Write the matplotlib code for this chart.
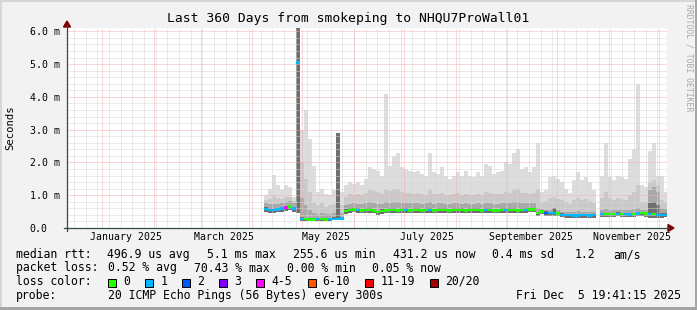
import numpy as np
import pandas as pd
import matplotlib
matplotlib.use("Agg")
import matplotlib.pyplot as plt
import matplotlib.dates as mdates
from matplotlib.lines import Line2D
from matplotlib.patches import Polygon, Rectangle

# ---------------- data ----------------
title = "Last 360 Days from smokeping to NHQU7ProWall01"
end_time = "2025-12-05 19:41:15"
span_days = 360
first_sample = "2025-04-08 00:30"
sample_minutes = 3456          # one consolidated column = 2.4 days

nan = float("nan")

# median rtt (ms)
median = [0.58, 0.55, 0.55, 0.56, 0.60, 0.62, 0.66, 0.60, 5.05, 0.28,
          0.27, 0.26, 0.26, 0.27, 0.27, 0.26, 0.27, 0.28, 0.28, 0.29,
          0.52, 0.55, 0.56, 0.55, 0.54, 0.55, 0.55, 0.53, 0.48, 0.52,
          0.54, 0.55, 0.55, 0.54, 0.55, 0.55, 0.54, 0.55, 0.55, 0.54,
          0.55, 0.55, 0.54, 0.55, 0.55, 0.55, 0.54, 0.55, 0.55, 0.55,
          0.54, 0.55, 0.55, 0.55, 0.54, 0.55, 0.55, 0.54, 0.54, 0.55,
          0.55, 0.55, 0.55, 0.54, 0.55, 0.55, 0.56, 0.57, 0.45, 0.50,
          0.46, 0.45, 0.45, 0.44, 0.40, 0.39, 0.39, 0.38, 0.38, 0.39,
          0.39, 0.38, 0.39, nan, 0.42, 0.42, 0.42, 0.42, 0.43, 0.42,
          0.42, 0.41, 0.42, 0.44, 0.45, 0.44, 0.43, 0.43, 0.40, 0.40,
          0.40]

# lowest ping (bottom of smoke, ms)
low = [0.48, 0.47, 0.47, 0.48, 0.50, 0.52, 0.55, 0.50, 0.45, 0.22,
       0.21, 0.21, 0.21, 0.22, 0.22, 0.21, 0.22, 0.23, 0.23, 0.23,
       0.44, 0.47, 0.48, 0.47, 0.46, 0.47, 0.47, 0.45, 0.41, 0.44,
       0.46, 0.47, 0.47, 0.46, 0.47, 0.47, 0.46, 0.47, 0.47, 0.46,
       0.47, 0.47, 0.46, 0.47, 0.47, 0.47, 0.46, 0.47, 0.47, 0.47,
       0.46, 0.47, 0.47, 0.47, 0.46, 0.47, 0.47, 0.46, 0.46, 0.47,
       0.47, 0.47, 0.47, 0.46, 0.47, 0.47, 0.48, 0.49, 0.36, 0.42,
       0.38, 0.37, 0.37, 0.36, 0.33, 0.32, 0.32, 0.31, 0.31, 0.32,
       0.32, 0.31, 0.32, nan, 0.35, 0.35, 0.35, 0.35, 0.36, 0.35,
       0.35, 0.34, 0.35, 0.37, 0.36, 0.35, 0.30, 0.30, 0.31, 0.32,
       0.33]

# top of darkest smoke band (ms)
core = [0.63, 0.60, 0.60, 0.61, 0.65, 0.67, 0.71, 0.65, 6.20, 0.33,
        0.32, 0.31, 0.31, 0.32, 0.32, 0.31, 0.32, 0.33, 2.90, 0.34,
        0.57, 0.60, 0.61, 0.60, 0.59, 0.60, 0.60, 0.58, 0.53, 0.57,
        0.59, 0.60, 0.60, 0.59, 0.60, 0.60, 0.59, 0.60, 0.60, 0.59,
        0.60, 0.60, 0.59, 0.60, 0.60, 0.60, 0.59, 0.60, 0.60, 0.60,
        0.59, 0.60, 0.60, 0.60, 0.59, 0.60, 0.60, 0.59, 0.59, 0.60,
        0.60, 0.60, 0.60, 0.59, 0.60, 0.60, 0.61, 0.62, 0.50, 0.55,
        0.51, 0.50, 0.62, 0.49, 0.45, 0.44, 0.44, 0.43, 0.43, 0.44,
        0.44, 0.43, 0.44, nan, 0.47, 0.47, 0.47, 0.47, 0.48, 0.47,
        0.47, 0.46, 0.47, 0.49, 0.50, 0.49, 0.75, 0.80, 0.70, 0.45,
        0.45]

# top of inner smoke band (ms)
inner = [0.75, 0.72, 0.74, 0.72, 0.76, 0.80, 0.82, 0.75, 6.20, 0.90,
         0.70, 0.55, 0.45, 0.42, 0.45, 0.42, 0.42, 0.45, 2.90, 0.45,
         0.70, 0.74, 0.75, 0.74, 0.73, 0.75, 0.78, 0.76, 0.72, 0.74,
         0.78, 0.77, 0.78, 0.80, 0.76, 0.75, 0.75, 0.76, 0.75, 0.74,
         0.75, 0.78, 0.74, 0.75, 0.76, 0.74, 0.73, 0.75, 0.76, 0.74,
         0.75, 0.74, 0.74, 0.75, 0.73, 0.77, 0.76, 0.74, 0.74, 0.75,
         0.77, 0.76, 0.78, 0.79, 0.75, 0.76, 0.76, 0.77, 0.62, 0.58,
         0.56, 0.55, 0.62, 0.54, 0.50, 0.49, 0.48, 0.50, 0.51, 0.50,
         0.50, 0.49, 0.49, nan, 0.55, 0.58, 0.55, 0.54, 0.55, 0.54,
         0.54, 0.56, 0.58, 0.60, 0.56, 0.55, 1.15, 1.25, 1.10, 0.60,
         0.58]

# top of middle smoke band (ms)
upper = [0.85, 0.88, 0.98, 0.92, 0.88, 0.95, 0.95, 0.82, 6.20, 2.00,
         1.50, 1.10, 0.80, 0.70, 0.75, 0.65, 0.70, 0.72, 2.90, 0.70,
         0.95, 1.05, 1.02, 1.05, 1.00, 1.08, 1.15, 1.12, 1.10, 1.05,
         1.20, 1.12, 1.15, 1.18, 1.10, 1.08, 1.06, 1.05, 1.08, 1.04,
         1.02, 1.15, 1.05, 1.04, 1.08, 1.02, 1.00, 1.03, 1.06, 1.02,
         1.05, 1.02, 1.00, 1.04, 1.02, 1.10, 1.08, 1.03, 1.04, 1.05,
         1.10, 1.08, 1.15, 1.18, 1.06, 1.08, 1.05, 1.08, 1.20, 0.80,
         0.82, 0.90, 0.95, 0.88, 0.85, 0.78, 0.72, 0.85, 0.90, 0.85,
         0.88, 0.82, 0.75, nan, 0.90, 1.10, 0.90, 0.85, 0.90, 0.88,
         0.85, 1.00, 1.10, 1.30, 0.80, 0.80, 1.40, 1.45, 1.30, 0.85,
         0.80]

# highest ping (top of smoke, ms)
top = [1.00, 1.20, 1.62, 1.30, 1.15, 1.30, 1.25, 0.95, 6.20, 3.00,
       3.60, 2.70, 1.90, 1.10, 1.20, 1.05, 1.00, 1.15, 2.90, 1.10,
       1.30, 1.40, 1.35, 1.40, 1.30, 1.50, 1.85, 1.80, 1.75, 1.60,
       4.10, 1.90, 2.20, 2.30, 1.85, 1.80, 1.75, 1.70, 1.75, 1.65,
       1.60, 2.30, 1.70, 1.65, 1.85, 1.60, 1.50, 1.60, 1.70, 1.60,
       1.75, 1.60, 1.55, 1.70, 1.60, 1.95, 1.90, 1.65, 1.70, 1.75,
       2.00, 1.95, 2.30, 2.40, 1.80, 1.85, 1.70, 1.85, 2.60, 1.10,
       1.15, 1.55, 1.60, 1.50, 1.40, 1.20, 1.07, 1.45, 1.70, 1.45,
       1.55, 1.40, 1.15, nan, 1.60, 2.60, 1.55, 1.45, 1.60, 1.55,
       1.50, 2.10, 2.40, 4.40, 1.30, 1.25, 2.35, 2.60, 1.60, 1.60,
       1.10]

# packet loss class of each column (index into loss_labels)
loss = [1, 1, 1, 1, 1, 4, 0, 1, 1, 1,
        0, 0, 0, 1, 0, 0, 1, 1, 1, 1,
        0, 0, 0, 1, 0, 0, 0, 0, 0, 0,
        0, 0, 0, 0, 0, 1, 0, 0, 0, 0,
        0, 1, 0, 0, 0, 0, 0, 0, 0, 0,
        0, 0, 0, 0, 0, 1, 0, 0, 0, 0,
        1, 0, 0, 0, 0, 1, 0, 0, 0, 0,
        2, 1, 1, 0, 1, 1, 1, 1, 1, 1,
        1, 1, 1, 1, 1, 0, 0, 0, 1, 0,
        1, 1, 0, 1, 0, 0, 1, 0, 1, 1,
        1]

loss_labels = ["0", "1", "2", "3", "4-5", "6-10", "11-19", "20/20"]
loss_colors = ["#26ff00", "#00b8ff", "#0059ff", "#7e00ff",
               "#ff00ff", "#ff5500", "#ff0000", "#a10000"]

y_ticks = [0, 1, 2, 3, 4, 5, 6]
y_ticklabels = ["0.0", "1.0 m", "2.0 m", "3.0 m", "4.0 m", "5.0 m", "6.0 m"]
x_label_dates = ["2025-01-15", "2025-03-15", "2025-05-15",
                 "2025-07-15", "2025-09-15", "2025-11-15"]
x_labels = ["January 2025", "March 2025", "May 2025",
            "July 2025", "September 2025", "November 2025"]

rtt_items = ["496.9 us avg", "5.1 ms max", "255.6 us min",
             "431.2 us now", "0.4 ms sd", "1.2", "am/s"]
loss_items = ["0.52 % avg", "70.43 % max", "0.00 % min", "0.05 % now"]
probe_text = "20 ICMP Echo Pings (56 Bytes) every 300s"
stamp_text = "Fri Dec  5 19:41:15 2025"

# ---------------- style ----------------
W, H, DPI = 697, 310, 100
MONO = "DejaVu Sans Mono"
BG = "#f2f2f2"
AXIS = "#2c4d43"
ARROW = "#7f0000"
plt.rcParams["font.family"] = MONO


def fx(px):
    return px / W


def fy(py):
    return 1 - py / H


fig = plt.figure(figsize=(W / DPI, H / DPI), dpi=DPI, facecolor=BG)
ax = fig.add_axes([fx(67), fy(228), 600 / W, 200 / H])
ax.set_facecolor("white")
for s in ax.spines.values():
    s.set_visible(False)

t_end = pd.Timestamp(end_time)
t_start = t_end - pd.Timedelta(days=span_days)
x0, x1 = mdates.date2num(t_start.to_pydatetime()), mdates.date2num(t_end.to_pydatetime())
ax.set_xlim(x0, x1)
ax.set_ylim(0, 6.1)

dates = pd.date_range(first_sample, periods=len(median), freq=f"{sample_minutes}min")
xs = mdates.date2num(dates.to_pydatetime())
wd = sample_minutes / 1440.0
low_a = np.array(low, dtype=float)

# smoke layers
for arr, col in [(top, "#dddddd"), (upper, "#c9c9c9"),
                 (inner, "#a9a9a9"), (core, "#6e6e6e")]:
    a = np.array(arr, dtype=float)
    ax.bar(xs, a - low_a, bottom=low_a, width=wd, align="edge",
           color=col, linewidth=0, antialiased=False, zorder=2)

# grid (dotted, 1px on / 1px off)
DOT = (0, (1, 1))
MINOR_C = "#d6d6d6"
MAJOR_C = "#f4b0b0"
hmin = [v / 5 for v in range(0, 31) if v % 5 != 0]
ax.hlines(hmin, x0, x1, colors=MINOR_C, linewidth=0.72,
          linestyles=DOT, zorder=3)
weeks = mdates.date2num(pd.date_range(t_start.normalize(), t_end, freq="W-SUN").to_pydatetime())
ax.vlines(weeks, 0, 6.1, colors=MINOR_C, linewidth=0.72,
          linestyles=DOT, zorder=3)
ax.hlines(y_ticks, x0, x1, colors=MAJOR_C, linewidth=0.72,
          linestyles=DOT, zorder=3)
months = mdates.date2num(pd.date_range("2025-01-01", t_end, freq="MS").to_pydatetime())
ax.vlines(months, 0, 6.1, colors=MAJOR_C, linewidth=0.72,
          linestyles=DOT, zorder=3)

# median line coloured by loss
med_a = np.array(median, dtype=float)
ax.bar(xs, 0.075, bottom=med_a - 0.0375, width=wd, align="edge",
       color=[loss_colors[k] for k in loss], linewidth=0,
       antialiased=False, zorder=5)

# ticks
ax.set_yticks(y_ticks)
ax.set_yticklabels(y_ticklabels)
ax.tick_params(axis="y", length=0, pad=27, labelsize=7.15, labelcolor="black")
for t in ax.get_yticklabels():
    t.set_horizontalalignment("left")
ax.set_xticks(mdates.date2num(pd.to_datetime(x_label_dates).to_pydatetime()))
ax.set_xticklabels(x_labels)
ax.tick_params(axis="x", length=0, pad=2.6, labelsize=7.15, labelcolor="black")

# axis lines and arrows
fig.add_artist(Line2D([fx(64), fx(669)], [fy(228), fy(228)], color=AXIS,
                      linewidth=0.9))
fig.add_artist(Line2D([fx(67), fx(67)], [fy(231), fy(25)], color=AXIS,
                      linewidth=0.9))
fig.add_artist(Polygon([(fx(668), fy(224.5)), (fx(674), fy(228)), (fx(668), fy(231.5))],
                       closed=True, color=ARROW, transform=fig.transFigure))
fig.add_artist(Polygon([(fx(63.5), fy(27)), (fx(67), fy(21)), (fx(70.5), fy(27))],
                       closed=True, color=ARROW, transform=fig.transFigure))

# titles
fig.text(fx(348.5), fy(18.5), title, ha="center", va="center", fontsize=9.4)
fig.text(fx(10), fy(128), "Seconds", rotation=90, ha="center", va="center", fontsize=7.6)
fig.text(fx(688.5), fy(4), "RRDTOOL / TOBI OETIKER", rotation=270, ha="center",
         va="top", fontsize=5.9, color="#a8a8a8")

# legend block
LS = 8.3
rows_y = [258, 271.5, 285, 299]
fig.text(fx(16), fy(rows_y[0]), "median rtt:", fontsize=LS, va="baseline")
for xp, s in zip([107, 207, 293, 393, 492.5, 575, 613.5], rtt_items):
    fig.text(fx(xp), fy(rows_y[0]), s, fontsize=LS, va="baseline")
fig.text(fx(16), fy(rows_y[1]), "packet loss:", fontsize=LS, va="baseline")
for xp, s in zip([107.5, 193.8, 286.7, 372.4], loss_items):
    fig.text(fx(xp), fy(rows_y[1]), s, fontsize=LS, va="baseline")
fig.text(fx(16), fy(rows_y[2]), "loss color:", fontsize=LS, va="baseline")
sw_x = [108, 145.3, 182.2, 219.1, 256.4, 307.6, 365.3, 430.2]
for xp, lab, col in zip(sw_x, loss_labels, loss_colors):
    fig.add_artist(Rectangle((fx(xp), fy(286.5)), 8 / W, 8 / H, transform=fig.transFigure,
                             facecolor=col, edgecolor="black", linewidth=0.72))
    fig.text(fx(xp + 15), fy(rows_y[2]), lab, fontsize=LS, va="baseline")
fig.text(fx(16), fy(rows_y[3]), "probe:", fontsize=LS, va="baseline")
fig.text(fx(107.5), fy(rows_y[3]), probe_text, fontsize=LS, va="baseline")
fig.text(fx(681), fy(rows_y[3]), stamp_text, fontsize=LS, va="baseline", ha="right")

# 3d frame
fig.add_artist(Rectangle((0, 0), 2 / W, 1, transform=fig.transFigure, color="#d6d6d6", lw=0))
fig.add_artist(Rectangle((0, 1 - 2 / H), 1, 2 / H, transform=fig.transFigure, color="#d6d6d6", lw=0))
fig.add_artist(Rectangle((1 - 2 / W, 0), 2 / W, 1, transform=fig.transFigure, color="#a5a5a5", lw=0))
fig.add_artist(Rectangle((0, 0), 1, 3 / H, transform=fig.transFigure, color="#a5a5a5", lw=0))

fig.savefig("out.png", dpi=DPI, facecolor=BG)
